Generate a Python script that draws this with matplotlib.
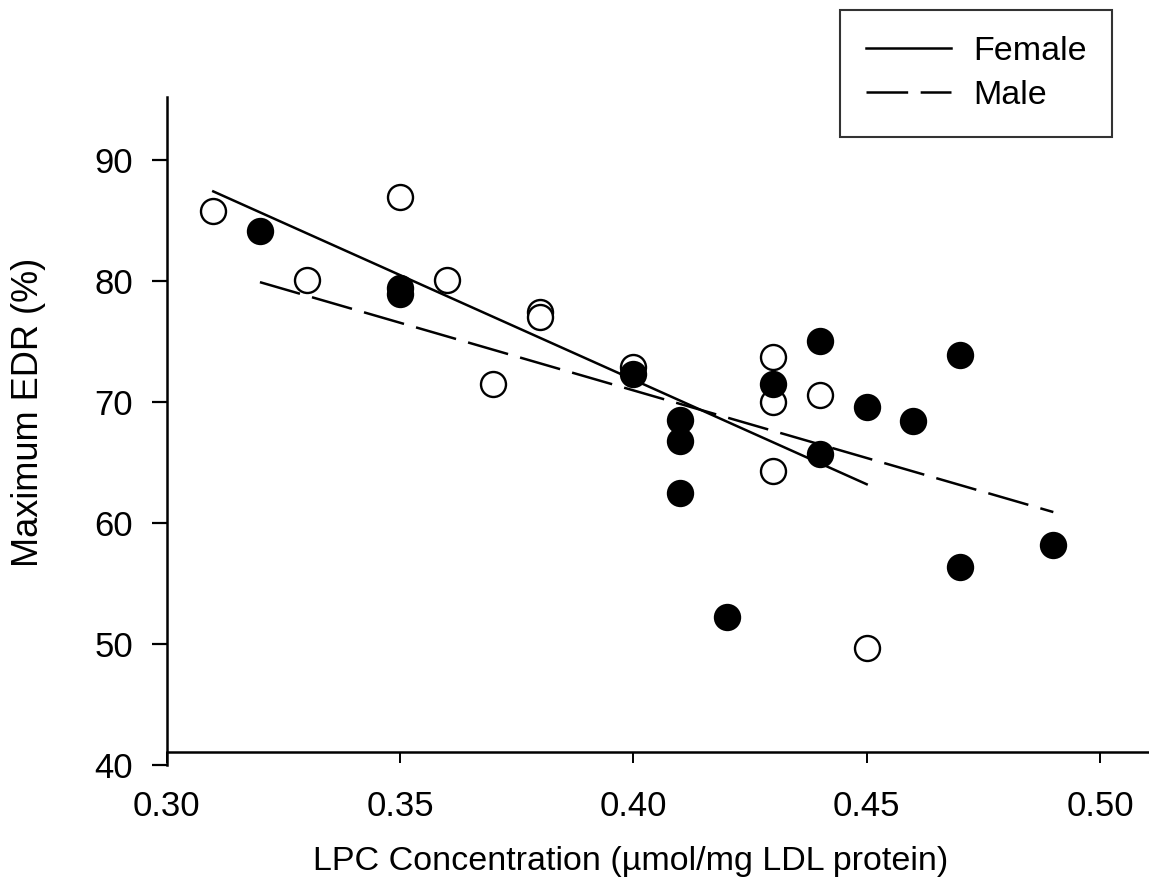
import matplotlib
matplotlib.use("Agg")
import matplotlib.pyplot as plt

plt.rcParams['font.family'] = ['Liberation Sans', 'DejaVu Sans']
plt.rcParams['lines.scale_dashes'] = False

# open circles (female)
female_x = [0.31, 0.33, 0.35, 0.36, 0.37, 0.38, 0.38, 0.40, 0.43, 0.43, 0.43, 0.44, 0.45]
female_y = [85.8, 80.1, 86.9, 80.1, 71.5, 77.4, 77.0, 72.9, 73.7, 70.0, 64.3, 70.6, 49.7]

# filled circles (male)
male_x = [0.32, 0.35, 0.35, 0.40, 0.41, 0.41, 0.41, 0.42, 0.43, 0.44, 0.44, 0.45, 0.46, 0.47, 0.47, 0.49]
male_y = [84.1, 79.4, 78.9, 72.3, 68.5, 66.8, 62.5, 52.2, 71.5, 75.0, 65.7, 69.6, 68.4, 73.9, 56.4, 58.2]

# regression line end points
female_fit_x = [0.31, 0.45]
female_fit_y = [87.4, 63.2]
male_fit_x = [0.32, 0.49]
male_fit_y = [79.9, 60.9]

x_ticks = [0.30, 0.35, 0.40, 0.45, 0.50]
y_ticks = [40, 50, 60, 70, 80, 90]

fig = plt.figure(figsize=(11.49, 8.86), dpi=100)
ax = fig.add_axes([0.145, 0.1366, 0.855, 0.7539])

ax.plot(female_fit_x, female_fit_y, color='black', lw=1.8, label='Female', zorder=2)
ax.plot(male_fit_x, male_fit_y, color='black', lw=1.8, dashes=(30, 9), label='Male', zorder=2)

ax.plot(female_x, female_y, 'o', ms=18, mfc='white', mec='black', mew=1.7, ls='none', zorder=3)
ax.plot(male_x, male_y, 'o', ms=18, mfc='black', mec='black', mew=1.7, ls='none', zorder=4)

ax.set_xlim(0.30, 0.5105)
ax.set_ylim(40, 95.2)
ax.set_xticks(x_ticks)
ax.set_xticklabels([f"{v:.2f}" for v in x_ticks])
ax.set_yticks(y_ticks)

for s in ['top', 'right']:
    ax.spines[s].set_visible(False)
ax.spines['bottom'].set_position(('data', 41.07))
ax.spines['bottom'].set_linewidth(1.8)
ax.spines['left'].set_linewidth(1.8)

ax.tick_params(axis='y', direction='out', length=11, width=1.6, labelsize=25, pad=13)
ax.tick_params(axis='x', direction='out', length=8, width=1.4, labelsize=25, pad=19)

ax.set_xlabel("LPC Concentration (\u00b5mol/mg LDL protein)", fontsize=24.5, va='center')
ax.xaxis.set_label_coords(0.472, -0.144)
ax.set_ylabel("Maximum EDR (%)", fontsize=26, va='center')
ax.yaxis.set_label_coords(-0.141, 0.528)

leg = ax.legend(loc='upper right', bbox_to_anchor=(1112 / 1149, 1 - 10 / 886),
                bbox_transform=fig.transFigure, fontsize=24.5, frameon=True,
                fancybox=False, handlelength=2.5, handletextpad=0.65,
                borderpad=0.75, labelspacing=0.4, borderaxespad=0)
leg.get_frame().set_edgecolor('black')
leg.get_frame().set_linewidth(1.5)

fig.savefig("out.png", dpi=100)
